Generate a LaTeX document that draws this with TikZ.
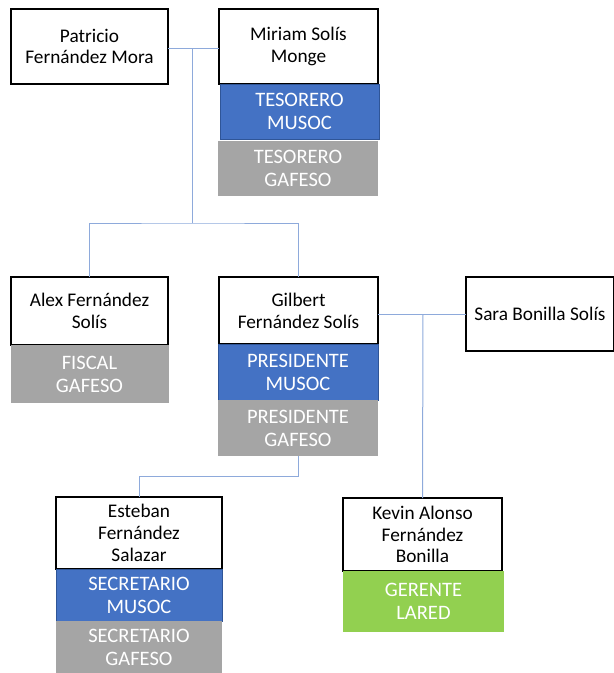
\documentclass[tikz,border=0pt]{standalone}
\usepackage{fontspec}
\setmainfont{Carlito}
\definecolor{rblue}{HTML}{4472C4}
\definecolor{rblueb}{HTML}{2F5597}
\definecolor{rgrey}{HTML}{A5A5A5}
\definecolor{rgreen}{HTML}{92D050}
\definecolor{conn}{HTML}{8EAADB}
\tikzset{
  box/.style={rectangle, inner sep=0pt, outer sep=0pt, align=center},
  person/.style={box, draw=black, line width=1.3pt, fill=white, text=black,
    font=\fontsize{19.3}{21.8}\selectfont},
  role/.style={box, text=white, font=\fontsize{20.5}{23}\selectfont},
  bluerole/.style={role, fill=rblue, draw=rblueb, line width=0.8pt},
  greyrole/.style={role, fill=rgrey},
  greenrole/.style={role, fill=rgreen},
  link/.style={draw=conn, line width=1pt},
}
\begin{document}
\begin{tikzpicture}[x=1pt,y=-1pt]
\useasboundingbox (0,0) rectangle (614,673);
% people
\node[person, minimum width=157, minimum height=75] (pat) at (89.5,46.5) {Patricio\\Fernández Mora};
\node[person, minimum width=159, minimum height=75] (mir) at (298.5,46.5) {Miriam Solís\\Monge};
\node[bluerole, minimum width=159, minimum height=55] (tesm) at (299.5,111.5) {TESORERO\\MUSOC};
\node[greyrole, minimum width=160, minimum height=55] (tesg) at (298,168.5) {TESORERO\\GAFESO};

\node[person, minimum width=157, minimum height=68] (alex) at (89.5,311) {Alex Fernández\\Solís};
\node[greyrole, minimum width=158, minimum height=58] (fis) at (89.5,374) {FISCAL\\GAFESO};

\node[person, minimum width=159, minimum height=67] (gil) at (298.5,310.5) {Gilbert\\Fernández Solís};
\node[bluerole, minimum width=160, minimum height=56] (presm) at (298,372) {PRESIDENTE\\MUSOC};
\node[greyrole, minimum width=160, minimum height=56] (presg) at (298,428) {PRESIDENTE\\GAFESO};

\node[person, minimum width=148, minimum height=74] (sara) at (540,314) {Sara Bonilla Solís};

\node[person, minimum width=159, minimum height=73] (kev) at (422.5,534.5) {Kevin Alonso\\Fernández\\Bonilla};
\node[greenrole, minimum width=161, minimum height=61] (ger) at (423.5,601.5) {GERENTE\\LARED};

\node[person, minimum width=166, minimum height=72] (est) at (139,533) {Esteban\\Fernández\\Salazar};
\node[bluerole, minimum width=166, minimum height=52] (secm) at (139,595) {SECRETARIO\\MUSOC};
\node[greyrole, minimum width=166, minimum height=52] (secg) at (139,647) {SECRETARIO\\GAFESO};

% connectors
\coordinate (j1) at (192,48);
\coordinate (j2) at (192,223);
\coordinate (j3) at (423,314);
\coordinate (j4) at (298,476);
\draw[link] (pat.east |- j1) -- (mir.west |- j1);
\draw[link] (j1) -- (j2);
\draw[link] (alex.north) |- (j2) -| (gil.north);
\draw[link] (gil.east |- j3) -- (sara.west |- j3);
\draw[link] (j3) -- (kev.north);
\draw[link] (presg.south) -- (j4) -| (est.north);
\end{tikzpicture}
\end{document}
